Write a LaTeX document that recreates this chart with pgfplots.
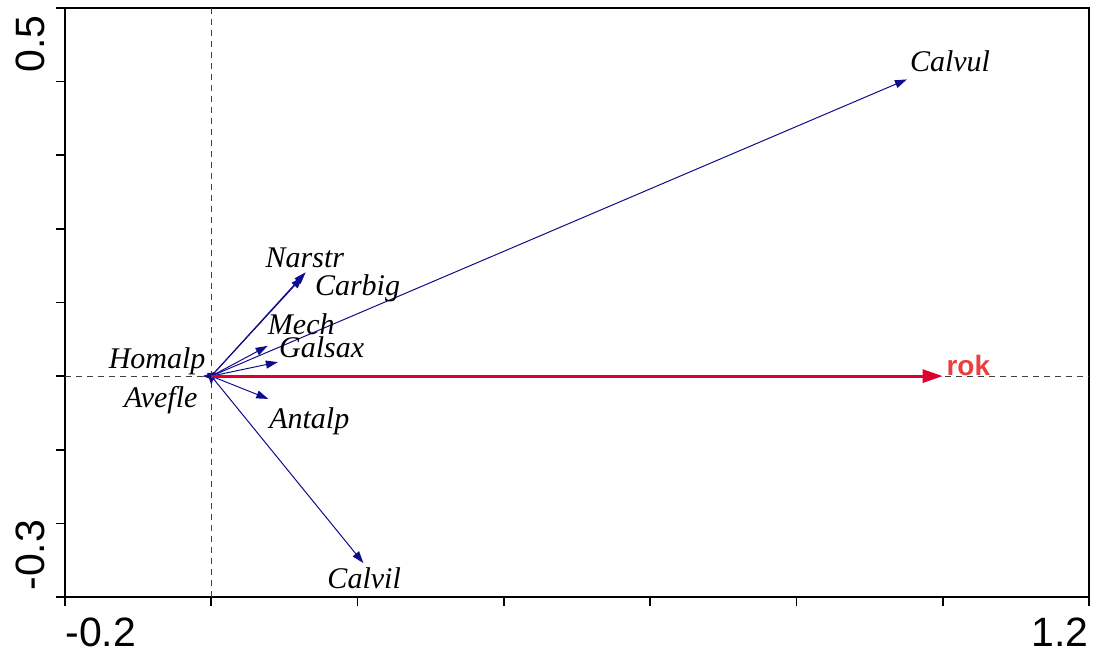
\documentclass[border=0pt]{standalone}
\usepackage{fontspec}
\setmainfont{Liberation Serif}
\setsansfont{Liberation Sans}
\usepackage{pgfplots}
\pgfplotsset{compat=1.18}
\usetikzlibrary{arrows.meta}
\definecolor{navy}{rgb}{0.05,0.05,0.55}
\definecolor{arrred}{RGB}{220,0,48}
\definecolor{txtred}{RGB}{232,64,64}
\tikzset{
  sp/.style={navy, line width=0.5pt, -{Triangle[length=6pt,width=4pt]}},
  lab/.style={font=\itshape\fontsize{15}{18}\selectfont, anchor=base, inner sep=0pt},
}
\begin{document}
\begin{tikzpicture}
\begin{axis}[
  scale only axis, width=512pt, height=294.5pt,
  xmin=-0.2, xmax=1.2, ymin=-0.3, ymax=0.5,
  axis line style={line width=1pt},
  xtick={-0.2,0,0.2,0.4,0.6,0.8,1.0,1.2},
  ytick={-0.3,-0.2,-0.1,0,0.1,0.2,0.3,0.4,0.5},
  xticklabels={,,,,,,,}, yticklabels={,,,,,,,,},
  tick pos=left, tick align=outside, major tick length=4.5pt,
  tick style={line width=0.8pt, black},
  clip=false,
]
% dashed zero lines
\addplot[black!75, line width=0.5pt, dash pattern=on 3pt off 2.5pt] coordinates {(0,-0.3) (0,0.5)};
\addplot[black!75, line width=0.5pt, dash pattern=on 3pt off 2.5pt] coordinates {(-0.2,0) (1.2,0)};
% species arrows
\addplot[sp] coordinates {(0,0) (0.951,0.403)};  % Calvul
\addplot[sp] coordinates {(0,0) (0.129,0.141)};  % Narstr
\addplot[sp] coordinates {(0,0) (0.125,0.135)};  % Carbig
\addplot[sp] coordinates {(0,0) (0.077,0.041)};  % Mech
\addplot[sp] coordinates {(0,0) (0.091,0.019)};  % Galsax
\addplot[sp] coordinates {(0,0) (0.078,-0.031)}; % Antalp
\addplot[sp] coordinates {(0,0) (0.208,-0.254)}; % Calvil
\addplot[sp] coordinates {(0,0) (-0.012,0)};     % Homalp
\addplot[sp] coordinates {(0,0) (0,-0.012)};     % Avefle
% environmental variable
\addplot[arrred, line width=1.4pt, -{Triangle[length=10pt,width=6.5pt]}] coordinates {(0,0) (1.0,0)};
% labels
\node[lab] at (axis cs:1.010,0.414) {Calvul};
\node[lab] at (axis cs:0.128,0.147) {Narstr};
\node[lab] at (axis cs:0.200,0.110) {Carbig};
\node[lab] at (axis cs:0.123,0.056) {Mech};
\node[lab] at (axis cs:0.151,0.0246) {Galsax};
\node[lab] at (axis cs:0.134,-0.0705) {Antalp};
\node[lab] at (axis cs:0.209,-0.288) {Calvil};
\node[lab] at (axis cs:-0.074,0.0105) {Homalp};
\node[lab] at (axis cs:-0.069,-0.042) {Avefle};
\node[font=\sffamily\bfseries\fontsize{14}{16}\selectfont, text=txtred, anchor=base, inner sep=0pt] at (axis cs:1.035,0.0015) {rok};
% tick labels
\node[font=\sffamily\fontsize{20.5}{24}\selectfont, anchor=north west, inner sep=0pt] at ([yshift=-10pt]rel axis cs:0,0) {-0.2};
\node[font=\sffamily\fontsize{20.5}{24}\selectfont, anchor=north east, inner sep=0pt] at ([yshift=-10pt]rel axis cs:1,0) {1.2};
\node[font=\sffamily\fontsize{20.5}{24}\selectfont, rotate=90, anchor=south east, inner sep=0pt] at ([xshift=-10pt,yshift=-3.5pt]rel axis cs:0,1) {0.5};
\node[font=\sffamily\fontsize{20.5}{24}\selectfont, rotate=90, anchor=south west, inner sep=0pt] at ([xshift=-10pt,yshift=3pt]rel axis cs:0,0) {-0.3};
\coordinate (bl) at (rel axis cs:0,0);
\coordinate (tr) at (rel axis cs:1,1);
\end{axis}
\pgfresetboundingbox
\path ([shift={(-32.5pt,-28pt)}]bl) rectangle ([shift={(4pt,4pt)}]tr);
\end{tikzpicture}
\end{document}
